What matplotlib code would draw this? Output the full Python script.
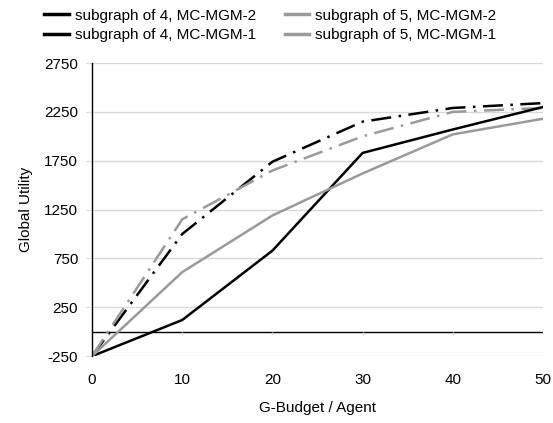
import numpy as np
import matplotlib.pyplot as plt
from matplotlib.lines import Line2D

plt.rcParams['font.family'] = ['Liberation Sans', 'DejaVu Sans']
plt.rcParams['font.size'] = 11
plt.rcParams['axes.unicode_minus'] = False

# data
budget = [0, 10, 20, 30, 40, 50]
sub4_mgm2 = [-250, 1000, 1740, 2150, 2290, 2340]
sub5_mgm2 = [-250, 1150, 1650, 2000, 2250, 2290]
sub4_mgm1 = [-250, 120, 830, 1830, 2070, 2300]
sub5_mgm1 = [-250, 610, 1190, 1620, 2020, 2180]

x_ticks = [0, 10, 20, 30, 40, 50]
y_ticks = [-250, 250, 750, 1250, 1750, 2250, 2750]

BLACK = '#000000'
GRAY = '#9a9a9a'
dashdot = (0, (8, 3, 1, 3))

fig = plt.figure(figsize=(5.53, 4.23), dpi=100)
ax = fig.add_axes([0.1664, 0.158, 0.8156, 0.693])

ax.plot(budget, sub4_mgm2, color=BLACK, lw=1.8, linestyle=dashdot)
ax.plot(budget, sub5_mgm2, color=GRAY, lw=1.8, linestyle=dashdot)
ax.plot(budget, sub4_mgm1, color=BLACK, lw=1.8)
ax.plot(budget, sub5_mgm1, color=GRAY, lw=1.8)

ax.set_xlim(0, 50)
ax.set_ylim(-250, 2750)
ax.set_xticks(x_ticks)
ax.set_yticks(y_ticks)
ax.grid(axis='y', color='#d9d9d9', lw=1)
ax.set_axisbelow(True)

# zero line with small tick marks
ax.axhline(0, color=BLACK, lw=1, zorder=1.5)
ax.vlines(x_ticks[1:], -30, 0, color='#d9d9d9', lw=1)

for s in ['top', 'right', 'bottom']:
    ax.spines[s].set_visible(False)
ax.spines['left'].set_color(BLACK)
ax.spines['left'].set_linewidth(1)
ax.tick_params(axis='x', length=0, pad=12)
ax.tick_params(axis='y', length=4, color='#d9d9d9', pad=6)

ax.set_xlabel('G-Budget / Agent', labelpad=10)
ax.set_ylabel('Global Utility', labelpad=8)

handles = [
    Line2D([], [], color=BLACK, lw=2.5),
    Line2D([], [], color=BLACK, lw=2.5),
    Line2D([], [], color=GRAY, lw=2.5),
    Line2D([], [], color=GRAY, lw=2.5),
]
labels = ['subgraph of 4, MC-MGM-2', 'subgraph of 4, MC-MGM-1',
          'subgraph of 5, MC-MGM-2', 'subgraph of 5, MC-MGM-1']
fig.legend(handles, labels, ncol=2, loc='upper left', bbox_to_anchor=(0.055, 1.012),
           frameon=False, handlelength=1.6, handletextpad=0.4, columnspacing=1.9,
           labelspacing=0.35)

fig.savefig('out.png', dpi=100)
